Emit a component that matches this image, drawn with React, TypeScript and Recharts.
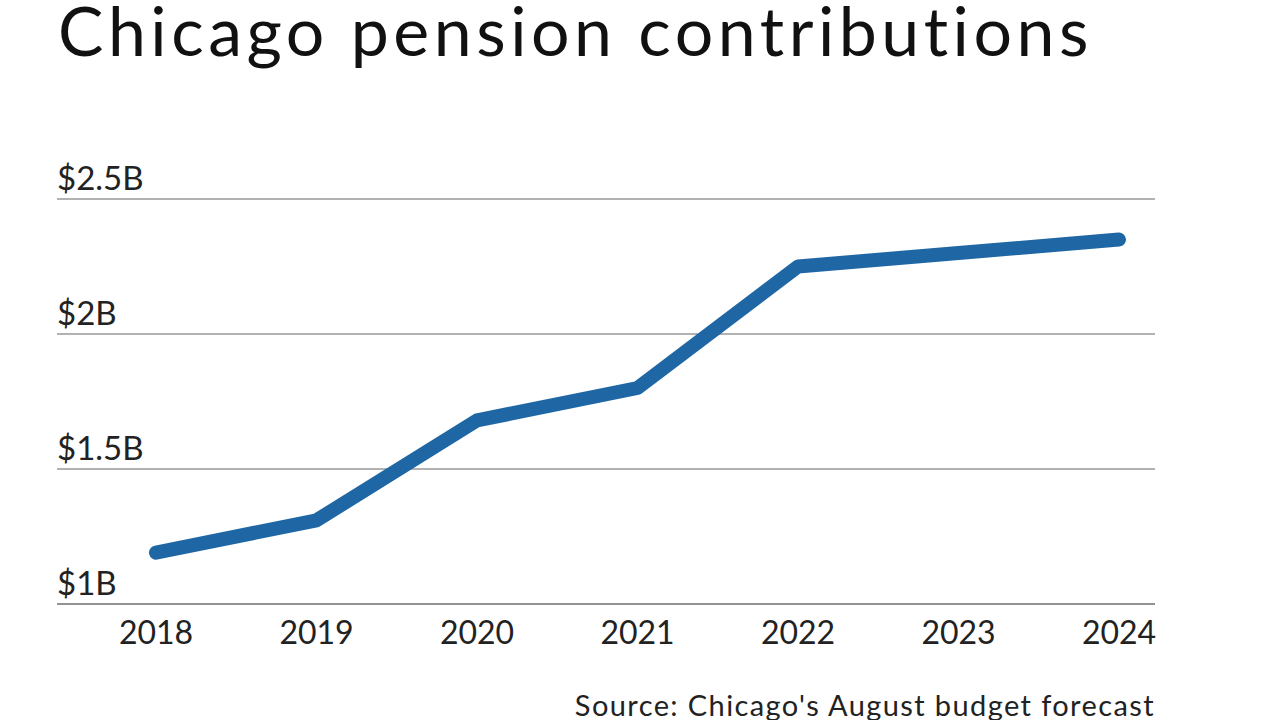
import { CartesianGrid, Line, LineChart, XAxis, YAxis } from "recharts";

const years = ["2018", "2019", "2020", "2021", "2022", "2023", "2024"];
const contributions = [1.19, 1.31, 1.68, 1.8, 2.25, 2.3, 2.35];
const yTicks = [1, 1.5, 2, 2.5];

const data = years.map((year, i) => ({ year, value: contributions[i] }));

const FONT = "Lato, 'Open Sans', sans-serif";

const fmtBillions = (v: number) => `$${v}B`;

// labels sit on top of each gridline, left-aligned with the plot edge
const renderYTick = (props: any) => {
  const { y, payload } = props;
  return (
    <text x={57} y={y - 9} textAnchor="start" fontSize={33} fontFamily={FONT} fill="#222">
      {fmtBillions(payload.value)}
    </text>
  );
};

export default function App() {
  return (
    <div style={{ position: "absolute", left: 0, top: 0, width: 1280, height: 720, background: "#fff" }}>
      <LineChart
        width={1280}
        height={720}
        data={data}
        margin={{ top: 199, right: 125, bottom: 76, left: 0 }}
      >
        <CartesianGrid vertical={false} stroke="#999" strokeWidth={1.5} />
        <XAxis
          dataKey="year"
          height={40}
          padding={{ left: 99, right: 36 }}
          axisLine={{ stroke: "#888", strokeWidth: 1.5 }}
          tickLine={false}
          tickSize={0}
          tickMargin={17}
          tick={{ fontSize: 32, fontFamily: FONT, fill: "#222" }}
          interval={0}
        />
        <YAxis
          domain={[1, 2.5]}
          ticks={yTicks}
          width={57}
          axisLine={false}
          tickLine={false}
          tickSize={0}
          tickMargin={0}
          tick={renderYTick}
        />
        <Line
          type="linear"
          dataKey="value"
          stroke="#1f67a4"
          strokeWidth={14}
          strokeLinecap="round"
          strokeLinejoin="round"
          dot={false}
          activeDot={false}
          isAnimationActive={false}
        />
      </LineChart>
      <svg
        width={1280}
        height={720}
        style={{ position: "absolute", left: 0, top: 0, pointerEvents: "none" }}
      >
        <text x={58} y={56} fontSize={68} letterSpacing={4.5} fontFamily={FONT} fill="#111">
          Chicago pension contributions
        </text>
        <text x={1155} y={716} textAnchor="end" fontSize={29} letterSpacing={1.4} fontFamily={FONT} fill="#222">
          Source: Chicago's August budget forecast
        </text>
      </svg>
    </div>
  );
}
